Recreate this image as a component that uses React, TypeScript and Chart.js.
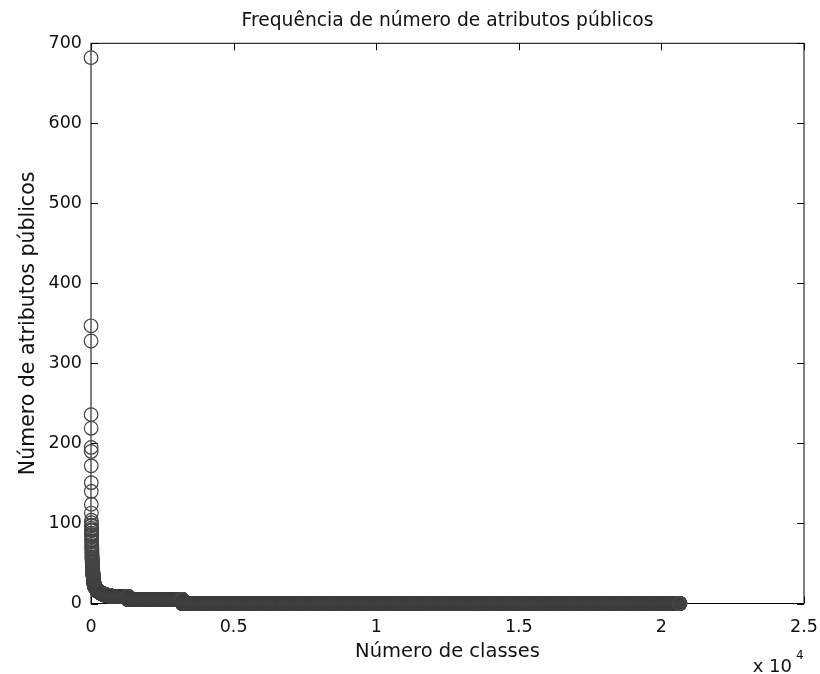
import React, { useEffect, useRef } from "react";
import { Chart, registerables } from "chart.js";

Chart.register(...registerables);

// Rank-ordered data: each value repeated `count` times
const runValues = [
  682, 347, 328, 236, 219, 195, 190, 172, 151, 140, 124, 113, 104,
  101, 98, 97, 94, 92, 91, 88, 86, 85, 83, 80, 78, 77, 74, 72, 70, 69, 67, 65, 63, 62, 60,
  58, 57, 55, 53, 52, 50, 48, 47, 45,
  44, 42, 41, 39, 38, 36, 35, 34, 33, 32, 31, 30, 29, 28, 27, 26,
  25, 24, 23, 22, 21, 20, 19, 18, 17, 16, 15, 14, 13, 12, 11, 10,
  9, 5, 0,
];
const runCounts = [
  1, 1, 1, 1, 1, 1, 1, 1, 1, 1, 1, 1, 1,
  1, 1, 1, 1, 1, 1, 1, 1, 1, 1, 1, 1, 1, 1, 1, 1, 1, 1, 1, 1, 1, 1,
  2, 2, 2, 2, 2, 2, 2, 2, 2,
  3, 3, 3, 3, 3, 3, 3, 3, 3, 3, 3, 3, 3, 3, 3, 3,
  5, 6, 8, 10, 12, 15, 18, 22, 26, 30, 36, 44, 52, 62, 75, 137,
  640, 1900, 17450,
];

const xTickLabels = ["0", "0.5", "1", "1.5", "2", "2.5"];
const yTickLabels = ["0", "100", "200", "300", "400", "500", "600", "700"];

const titleText = "Frequência de número de atributos públicos";
const xTitle = "Número de classes";
const yTitle = "Número de atributos públicos";

const FONT = "'DejaVu Sans', sans-serif";

export default function App() {
  const ref = useRef<HTMLCanvasElement | null>(null);

  useEffect(() => {
    document.body.style.margin = "0";
    const points: { x: number; y: number }[] = [];
    let idx = 1;
    runValues.forEach((v, k) => {
      for (let j = 0; j < runCounts[k]; j++) points.push({ x: idx++, y: v });
    });

    const boxPlugin = {
      id: "matlabBox",
      beforeDatasetsDraw(chart: any) {
        const { ctx, chartArea: a, scales } = chart;
        ctx.save();
        ctx.strokeStyle = "#000";
        ctx.lineWidth = 1;
        ctx.strokeRect(a.left, a.top, a.right - a.left, a.bottom - a.top);
        const tl = 7;
        ctx.beginPath();
        scales.x.ticks.forEach((t: any) => {
          const px = Math.round(scales.x.getPixelForValue(t.value)) + 0.5;
          ctx.moveTo(px, a.bottom);
          ctx.lineTo(px, a.bottom - tl);
          ctx.moveTo(px, a.top);
          ctx.lineTo(px, a.top + tl);
        });
        scales.y.ticks.forEach((t: any) => {
          const py = Math.round(scales.y.getPixelForValue(t.value)) + 0.5;
          ctx.moveTo(a.left, py);
          ctx.lineTo(a.left + tl, py);
          ctx.moveTo(a.right, py);
          ctx.lineTo(a.right - tl, py);
        });
        ctx.stroke();
        ctx.restore();
      },
      afterDraw(chart: any) {
        const { ctx, chartArea: a } = chart;
        ctx.save();
        ctx.fillStyle = "#111";
        ctx.textBaseline = "alphabetic";
        ctx.textAlign = "center";
        ctx.font = `18.7px ${FONT}`;
        ctx.fillText(titleText, (a.left + a.right) / 2, 26);
        ctx.textAlign = "right";
        ctx.font = `18px ${FONT}`;
        ctx.fillText("x 10", a.right - 12, 672);
        ctx.textAlign = "left";
        ctx.font = `12px ${FONT}`;
        ctx.fillText("4", a.right - 8, 659);
        ctx.restore();
      },
    };

    const chart = new Chart(ref.current as HTMLCanvasElement, {
      type: "scatter",
      data: {
        datasets: [
          {
            data: points,
            pointRadius: 6.8,
            pointBorderWidth: 1.2,
            pointBorderColor: "#454545",
            pointBackgroundColor: "rgba(0,0,0,0)",
            showLine: false,
            clip: false as any,
          },
        ],
      },
      options: {
        animation: false,
        responsive: false,
        events: [],
        layout: { padding: { left: 0, right: 16, top: 43.3, bottom: 0 } },
        plugins: {
          legend: { display: false },
          tooltip: { enabled: false },
          title: { display: false },
        },
        scales: {
          x: {
            type: "linear",
            min: 0,
            max: 25000,
            ticks: {
              stepSize: 5000,
              autoSkip: false,
              maxRotation: 0,
              padding: 13,
              color: "#111",
              font: { family: FONT, size: 17.5 },
              callback: (_v: any, i: number) => xTickLabels[i],
            },
            grid: { display: false, drawTicks: false },
            border: { display: false },
            title: {
              display: true,
              text: xTitle,
              color: "#111",
              font: { family: FONT, size: 19.5 },
              padding: { top: 0, bottom: 10 },
            },
            afterFit: (s: any) => {
              s.height = 70.5;
              s.paddingRight = 0;
              s.paddingLeft = 0;
            },
          },
          y: {
            type: "linear",
            min: 0,
            max: 700,
            ticks: {
              stepSize: 100,
              autoSkip: false,
              padding: 9,
              color: "#111",
              font: { family: FONT, size: 17.5 },
              callback: (_v: any, i: number) => yTickLabels[i],
            },
            grid: { display: false, drawTicks: false },
            border: { display: false },
            title: {
              display: true,
              text: yTitle,
              color: "#111",
              font: { family: FONT, size: 20.5 },
              padding: { top: 16, bottom: 0 },
            },
            afterFit: (s: any) => {
              s.width = 91;
              s.paddingTop = 0;
              s.paddingBottom = 0;
            },
          },
        },
      },
      plugins: [boxPlugin],
    } as any);

    return () => chart.destroy();
  }, []);

  return (
    <div style={{ position: "absolute", left: 0, top: 0, width: 820, height: 674, background: "#fff" }}>
      <canvas ref={ref} width={820} height={674} style={{ display: "block" }} />
    </div>
  );
}
